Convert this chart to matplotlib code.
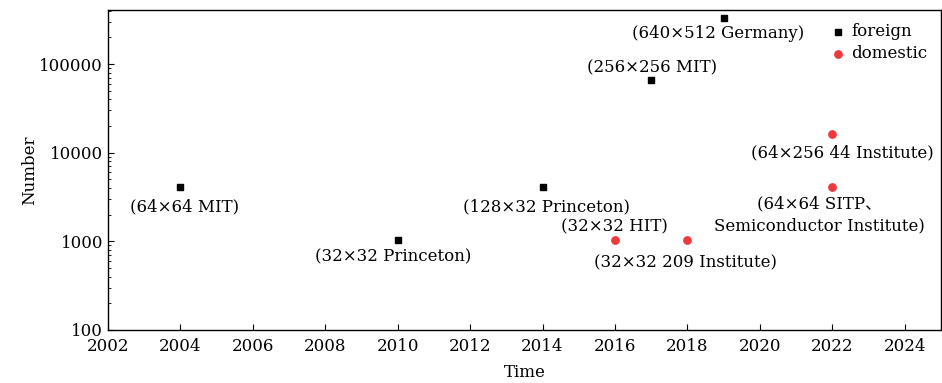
import matplotlib

matplotlib.use("Agg")
import matplotlib.pyplot as plt

plt.rcParams.update(
    {
        "font.family": ["DejaVu Serif", "Noto Sans CJK SC"],
        "font.size": 12,
        "xtick.direction": "in",
        "ytick.direction": "in",
        "axes.linewidth": 1.0,
    }
)

# foreign detectors
foreign_year = [2004, 2010, 2014, 2017, 2019]
foreign_num = [4096, 1024, 4096, 65536, 327680]
foreign_label = [
    "(64×64 MIT)",
    "(32×32 Princeton)",
    "(128×32 Princeton)",
    "(256×256 MIT)",
    "(640×512 Germany)",
]
# label offsets in points
foreign_off = [(3, -14), (-3, -12), (3, -14), (1, 9), (-4, -11)]

# domestic detectors
domestic_year = [2016, 2018, 2022, 2022]
domestic_num = [1024, 1024, 16384, 4096]
domestic_label = [
    "(32×32 HIT)",
    "(32×32 209 Institute)",
    "(64×256 44 Institute)",
    "(64×64 SITP、\nSemiconductor Institute)",
]
domestic_off = [(0, 10), (-1, -16), (7, -14), (-9, -20)]

RED = "#ee3a3c"

fig = plt.figure(figsize=(9.42, 3.83), dpi=100)
ax = fig.add_axes([0.1147, 0.1384, 0.884, 0.836])

ax.scatter(foreign_year, foreign_num, marker="s", s=22, color="black", label="foreign", zorder=3)
ax.scatter(domestic_year, domestic_num, marker="o", s=28, color=RED, label="domestic", zorder=3)

for x, y, t, (dx, dy) in zip(foreign_year, foreign_num, foreign_label, foreign_off):
    ax.annotate(t, (x, y), xytext=(dx, dy), textcoords="offset points",
                ha="center", va="center")
for x, y, t, (dx, dy) in zip(domestic_year, domestic_num, domestic_label, domestic_off):
    ax.annotate(t, (x, y), xytext=(dx, dy), textcoords="offset points",
                ha="center", va="center", multialignment="center", linespacing=1.35)

ax.set_yscale("log")
ax.set_xlim(2002, 2025)
ax.set_ylim(100, 4.1e5)
ax.set_xticks(range(2002, 2025, 2))
ax.set_yticks([100, 1000, 10000, 100000])
ax.set_yticklabels(["100", "1000", "10000", "100000"])
ax.tick_params(which="major", length=4, top=False, right=False)
ax.tick_params(which="minor", length=2, top=False, right=False)
ax.tick_params(axis="x", pad=6)
ax.set_xlabel("Time", labelpad=6)
ax.set_ylabel("Number", labelpad=1)

ax.legend(loc="upper right", frameon=False, handletextpad=0.3, borderaxespad=0.6,
          labelspacing=0.3, handlelength=1.0, borderpad=0.2)

fig.savefig("out.png", dpi=100)
